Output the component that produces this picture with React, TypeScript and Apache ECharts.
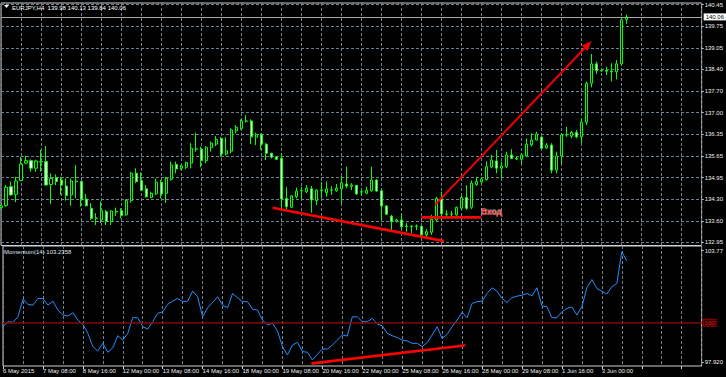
import React, { useEffect, useRef } from 'react';
import * as echarts from 'echarts';

// ---------- data ----------
const titleText = 'EURJPY,H4\u00a0 139.98 140.13 139.84 140.06';
const momentumTitle = 'Momentum(14) 103.2358';
const bidPrice = 140.06;
const levelValue = 100;

const xTickLabels = [
  '6 May 2015', '7 May 08:00', '8 May 16:00', '12 May 00:00', '13 May 08:00', '14 May 16:00',
  '18 May 00:00', '19 May 08:00', '20 May 16:00', '22 May 00:00', '25 May 08:00', '26 May 16:00',
  '28 May 00:00', '29 May 08:00', '1 Jun 16:00', '3 Jun 00:00',
];
const yTickLabels = [
  '132.95', '133.60', '134.30', '134.95', '135.65', '136.35',
  '137.00', '137.70', '138.40', '139.05', '139.75', '140.45',
];
const momTickValues = [97.92, 103.77];
const momTickLabels = ['97.920', '103.77'];

const opens = [
  134.05, 134.11, 134.71, 134.47, 134.90, 135.45, 135.53, 135.29, 135.50, 135.50,
  134.78, 134.99, 134.92, 134.73, 134.45, 134.86, 134.87, 134.32, 134.03, 133.71,
  133.66, 133.92, 133.61, 133.93, 133.95, 133.82, 134.27, 135.13, 134.90, 134.64,
  134.37, 134.48, 134.85, 134.50, 134.94, 135.41, 135.29, 135.32, 135.45, 135.90,
  135.89, 135.53, 135.94, 136.05, 136.23, 135.74, 135.83, 136.47, 136.55, 136.77,
  136.78, 136.27, 136.34, 136.05, 135.76, 135.65, 135.60, 134.34, 134.06, 134.39,
  134.59, 134.55, 134.64, 134.27, 134.58, 134.52, 134.60, 134.58, 134.64, 134.79,
  134.72, 134.75, 134.54, 134.50, 134.58, 134.92, 134.58, 134.10, 133.78, 133.62,
  133.66, 133.45, 133.47, 133.46, 133.46, 133.19, 133.27, 133.66, 134.34, 133.85,
  133.84, 133.82, 134.03, 134.37, 134.06, 134.78, 134.86, 134.93, 135.33, 135.52,
  135.29, 135.34, 135.71, 135.60, 135.57, 135.68, 136.03, 136.18, 136.27, 135.93,
  136.02, 135.23, 135.68, 136.34, 136.30, 136.42, 136.28, 136.74, 137.97, 138.58,
  138.36, 138.37, 138.35, 138.33, 138.58, 139.98,
];
const closes = [
  134.10, 134.69, 134.45, 134.89, 135.42, 135.53, 135.29, 135.52, 135.49, 134.76,
  134.97, 134.87, 134.76, 134.43, 134.89, 134.88, 134.31, 134.11, 133.71, 133.72,
  133.95, 133.61, 133.94, 133.91, 133.80, 134.27, 135.13, 134.87, 134.60, 134.39,
  134.50, 134.85, 134.48, 134.97, 135.39, 135.27, 135.36, 135.47, 135.92, 135.89,
  135.53, 135.95, 136.08, 136.20, 135.74, 135.84, 136.50, 136.58, 136.78, 136.78,
  136.28, 136.36, 136.05, 135.76, 135.64, 135.57, 134.32, 134.08, 134.42, 134.57,
  134.58, 134.66, 134.29, 134.60, 134.60, 134.64, 134.61, 134.66, 134.83, 134.73,
  134.76, 134.48, 134.55, 134.60, 134.92, 134.57, 134.10, 133.84, 133.61, 133.66,
  133.45, 133.47, 133.46, 133.47, 133.19, 133.29, 133.68, 134.34, 133.85, 133.84,
  133.85, 134.06, 134.37, 134.03, 134.82, 134.87, 134.95, 135.34, 135.55, 135.29,
  135.36, 135.71, 135.60, 135.58, 135.71, 136.05, 136.18, 136.37, 135.92, 136.02,
  135.23, 135.68, 136.34, 136.35, 136.42, 136.28, 136.74, 137.97, 138.58, 138.36,
  138.37, 138.35, 138.33, 138.58, 139.97, 140.06,
];
const lows = [
  134.02, 134.08, 134.43, 134.22, 134.89, 135.42, 135.18, 135.18, 135.18, 134.75,
  134.16, 134.76, 134.45, 134.27, 134.11, 134.34, 134.08, 134.08, 133.66, 133.50,
  133.56, 133.50, 133.50, 133.79, 133.71, 133.80, 134.20, 134.82, 134.58, 134.37,
  134.34, 134.45, 134.34, 134.20, 134.90, 135.13, 135.24, 135.26, 135.29, 135.81,
  135.32, 135.45, 135.81, 135.99, 135.65, 135.69, 135.76, 136.39, 136.50, 136.73,
  136.05, 136.02, 135.87, 135.55, 135.60, 135.55, 133.97, 133.97, 134.03, 134.34,
  134.31, 134.50, 133.89, 134.13, 134.35, 134.39, 134.45, 134.55, 134.20, 134.66,
  134.60, 134.45, 134.42, 134.48, 134.55, 134.55, 133.66, 133.82, 133.29, 133.58,
  133.34, 133.29, 133.24, 133.34, 133.15, 133.08, 133.19, 133.61, 133.66, 133.76,
  133.76, 133.79, 134.00, 133.97, 134.00, 134.73, 134.79, 134.90, 135.29, 135.13,
  134.97, 135.29, 135.58, 135.55, 135.45, 135.64, 135.97, 136.16, 135.90, 135.90,
  135.13, 135.13, 135.45, 136.28, 136.23, 136.23, 136.08, 136.65, 137.84, 138.26,
  138.33, 138.23, 138.02, 138.09, 138.54, 139.84,
];
const highs = [
  134.13, 134.76, 134.87, 135.02, 135.65, 135.68, 135.57, 135.56, 135.87, 135.99,
  135.13, 135.10, 135.02, 134.97, 134.97, 135.39, 134.89, 134.48, 134.19, 133.87,
  134.24, 133.97, 133.97, 134.05, 134.03, 134.31, 135.18, 135.29, 135.16, 134.76,
  134.55, 134.97, 134.92, 135.02, 135.50, 135.50, 135.39, 135.50, 136.08, 136.41,
  135.97, 135.99, 136.13, 136.31, 136.28, 136.27, 136.55, 136.65, 136.83, 136.97,
  136.83, 136.41, 136.39, 136.08, 135.78, 135.66, 135.76, 134.69, 134.45, 134.68,
  134.71, 134.76, 134.73, 134.63, 134.86, 134.87, 134.73, 134.79, 135.05, 135.34,
  134.82, 134.76, 134.60, 134.71, 135.34, 134.94, 134.60, 134.13, 133.82, 133.70,
  133.85, 133.57, 133.49, 133.52, 133.47, 133.37, 133.82, 134.39, 134.55, 133.97,
  133.95, 134.08, 134.42, 134.76, 134.90, 135.02, 135.00, 135.50, 135.71, 135.87,
  135.50, 135.81, 135.89, 135.66, 135.76, 136.23, 136.39, 136.44, 136.30, 136.08,
  136.08, 135.81, 136.39, 136.60, 136.47, 136.50, 136.86, 138.02, 138.89, 138.65,
  138.41, 138.49, 138.60, 138.70, 140.02, 140.13,
];
const momentum = [
  99.79, 100.05, 100.02, 100.31, 101.24, 100.96, 100.92, 101.27, 101.27, 100.92,
  101.13, 100.66, 100.40, 100.35, 100.52, 100.14, 99.91, 99.44, 98.75, 98.52,
  98.92, 98.45, 98.69, 99.32, 99.09, 99.44, 100.26, 100.26, 99.79, 99.67,
  100.05, 100.49, 100.57, 100.96, 101.13, 101.27, 101.10, 101.13, 101.65, 101.36,
  100.31, 100.78, 101.06, 101.36, 100.92, 100.78, 101.53, 101.31, 101.10, 101.10,
  100.71, 100.66, 100.14, 99.88, 99.97, 99.56, 98.75, 98.31, 98.83, 98.97,
  98.49, 98.45, 98.05, 98.35, 98.62, 98.62, 98.83, 99.09, 99.36, 99.30,
  100.31, 100.31, 100.05, 100.05, 100.23, 99.93, 99.84, 99.44, 99.32, 99.22,
  99.09, 99.04, 98.92, 98.92, 98.75, 98.96, 99.36, 99.79, 99.18, 99.39,
  99.79, 100.14, 100.54, 100.26, 101.01, 101.10, 101.13, 101.53, 101.83, 101.65,
  101.27, 101.06, 101.31, 101.39, 101.44, 101.53, 101.41, 101.83, 100.87, 100.84,
  100.26, 100.26, 100.57, 100.75, 100.82, 100.40, 100.84, 101.83, 102.26, 101.79,
  101.65, 101.50, 101.88, 102.05, 103.71, 103.24,
];

// hand-drawn annotations, in [bar index, value] data units
const downTrendLine = [[54.5, 134.04], [88.3, 133.0]];
const entryLine = [[84.2, 133.74], [95.7, 133.74]];
const targetArrow = [[86.7, 134.13], [118.0, 139.3]];
const momentumTrendLine = [[62.0, 97.87], [92.4, 98.81]];
const entryLabel = { text: 'Вход', at: [96.0, 133.9] };

// ---------- layout ----------
const SLOTS = 141; // bar slots incl. the chart-shift space on the right
const PRICE_MIN = 132.855;
const PRICE_MAX = 140.498;
const MOM_MIN = 97.733;
const MOM_MAX = 104.016;
const FONT = "'Liberation Sans', Arial, sans-serif";
const GRID_COLOR = '#718293';
const TEXT_COLOR = '#eeeeee';

const pad = (n: number) => (n < 10 ? '0' + n : '' + n);
function buildCategories(n: number): string[] {
  const out: string[] = [];
  let t = Date.UTC(2015, 4, 6, 0, 0);
  while (out.length < n) {
    const d = new Date(t);
    const wd = d.getUTCDay();
    if (wd !== 0 && wd !== 6) {
      out.push(`${d.getUTCFullYear()}.${pad(d.getUTCMonth() + 1)}.${pad(d.getUTCDate())} ${pad(d.getUTCHours())}:00`);
    }
    t += 4 * 3600 * 1000;
  }
  return out;
}

const yLo = parseFloat(yTickLabels[0]);
const yHi = parseFloat(yTickLabels[yTickLabels.length - 1]);
const yStep = (yHi - yLo) / (yTickLabels.length - 1);
const yTickValues = yTickLabels.map((_, i) => yLo + i * yStep);

export default function App() {
  const ref = useRef<HTMLDivElement>(null);

  useEffect(() => {
    document.body.style.margin = '0';
    const chart = echarts.init(ref.current!, null, { renderer: 'svg' });
    const categories = buildCategories(SLOTS);
    const candles = opens.map((o, i) => [o, closes[i], lows[i], highs[i]]);

    const splitLine = { show: true, interval: 3, lineStyle: { color: GRID_COLOR, type: [3, 2] as any, width: 1 } };

    const option: any = {
      animation: false,
      backgroundColor: '#000000',
      textStyle: { fontFamily: FONT, fontSize: 6, color: TEXT_COLOR },
      grid: [
        { left: 1, right: 20, top: 3, height: 242.5, show: true, borderColor: '#cfcfcf', borderWidth: 1, backgroundColor: 'transparent' },
        { left: 1, right: 20, top: 246, height: 120, show: true, borderColor: '#cfcfcf', borderWidth: 1, backgroundColor: 'transparent' },
      ],
      xAxis: [
        {
          type: 'category', gridIndex: 0, data: categories, boundaryGap: false,
          axisLine: { show: false }, axisTick: { show: false }, axisLabel: { show: false },
          splitLine,
        },
        {
          type: 'category', gridIndex: 1, data: categories, boundaryGap: false, position: 'bottom',
          axisLine: { show: false },
          axisTick: { show: true, interval: 7, length: 3, lineStyle: { color: '#cfcfcf' } },
          axisLabel: {
            show: true, interval: 7, align: 'left', margin: 2, color: TEXT_COLOR, fontSize: 6, fontFamily: FONT,
            formatter: (_v: string, idx: number) => (idx % 8 === 0 && xTickLabels[idx / 8] ? xTickLabels[idx / 8] : ''),
          },
          splitLine,
        },
      ],
      yAxis: [
        {
          type: 'value', gridIndex: 0, position: 'right', min: PRICE_MIN, max: PRICE_MAX,
          axisLine: { show: false },
          axisTick: { show: true, customValues: yTickValues, length: 2, lineStyle: { color: '#cfcfcf' } },
          axisLabel: {
            customValues: yTickValues, margin: 3, color: TEXT_COLOR, fontSize: 6, fontFamily: FONT,
            formatter: (v: number) => yTickLabels[Math.round((v - yLo) / yStep)] ?? '',
          },
          splitLine: { show: true, lineStyle: { color: GRID_COLOR, type: [3, 2], width: 1 } },
        },
        {
          type: 'value', gridIndex: 1, position: 'right', min: MOM_MIN, max: MOM_MAX,
          axisLine: { show: false },
          axisTick: { show: true, customValues: momTickValues, length: 2, lineStyle: { color: '#cfcfcf' } },
          axisLabel: {
            customValues: momTickValues, margin: 3, color: TEXT_COLOR, fontSize: 6, fontFamily: FONT,
            formatter: (v: number) => {
              const i = momTickValues.findIndex((t) => Math.abs(t - v) < 1e-6);
              return i >= 0 ? momTickLabels[i] : '';
            },
          },
          splitLine: { show: false },
        },
      ],
      series: [
        {
          type: 'candlestick', xAxisIndex: 0, yAxisIndex: 0, data: candles,
          barWidth: 2.6,
          itemStyle: { color: '#000000', color0: '#ffffff', borderColor: '#00ff00', borderColor0: '#00ff00', borderWidth: 1 },
          markLine: {
            silent: true, symbol: 'none', animation: false,
            lineStyle: { color: '#a8a8a8', width: 1, type: 'solid' },
            label: {
              show: true, position: 'end', distance: 2, formatter: bidPrice.toFixed(2),
              color: '#000000', backgroundColor: '#ffffff', padding: [1, 2, 0, 2], fontSize: 6, fontFamily: FONT,
            },
            data: [{ yAxis: bidPrice }],
          },
          z: 3,
        },
        {
          type: 'line', xAxisIndex: 1, yAxisIndex: 1, data: momentum,
          symbol: 'none', lineStyle: { color: '#1e90ff', width: 1 }, itemStyle: { color: '#1e90ff' },
          markLine: {
            silent: true, symbol: 'none', animation: false,
            lineStyle: { color: '#840808', width: 1.6, type: 'solid' },
            label: {
              show: true, position: 'end', distance: 2, formatter: String(levelValue),
              color: '#d02020', backgroundColor: '#3a0000', borderColor: '#a00000', borderWidth: 1,
              padding: [0, 1], fontSize: 6, fontFamily: FONT,
            },
            data: [{ yAxis: levelValue }],
          },
          z: 4,
        },
      ],
    };
    chart.setOption(option);

    const toPx = (grid: number, bar: number, val: number) => {
      const a = chart.convertToPixel({ gridIndex: grid } as any, [0, val]) as number[];
      const b = chart.convertToPixel({ gridIndex: grid } as any, [SLOTS - 1, val]) as number[];
      return [a[0] + ((b[0] - a[0]) * bar) / (SLOTS - 1), a[1]];
    };
    const lineEl = (grid: number, pts: number[][], width: number) => {
      const [x1, y1] = toPx(grid, pts[0][0], pts[0][1]);
      const [x2, y2] = toPx(grid, pts[1][0], pts[1][1]);
      return { type: 'line', shape: { x1, y1, x2, y2 }, style: { stroke: '#ff0000', lineWidth: width, lineCap: 'round' }, z: 50 };
    };

    const [ax1, ay1] = toPx(0, targetArrow[0][0], targetArrow[0][1]);
    const [ax2, ay2] = toPx(0, targetArrow[1][0], targetArrow[1][1]);
    const dx = ax2 - ax1;
    const dy = ay2 - ay1;
    const len = Math.hypot(dx, dy);
    const ux = dx / len;
    const uy = dy / len;
    const hl = 10;
    const hw = 4;
    const bx = ax2 - ux * hl;
    const by = ay2 - uy * hl;
    const [lx, ly] = toPx(0, entryLabel.at[0], entryLabel.at[1]);
    const labelFont = `bold 8.5px ${FONT}`;

    chart.setOption({
      graphic: [
        { type: 'polygon', shape: { points: [[4, 5], [9, 5], [6.5, 8]] }, style: { fill: '#ffffff' }, z: 60 },
        {
          type: 'text', x: 12, y: 7.5, z: 60,
          style: { text: titleText, fill: '#ffffff', font: `6px ${FONT}`, align: 'left', verticalAlign: 'middle' },
        },
        {
          type: 'text', x: 4, y: 252, z: 60,
          style: { text: momentumTitle, fill: '#dde6f0', font: `6px ${FONT}`, align: 'left', verticalAlign: 'middle' },
        },
        lineEl(0, downTrendLine, 2.6),
        lineEl(0, entryLine, 2.6),
        lineEl(1, momentumTrendLine, 2.6),
        { type: 'line', shape: { x1: ax1, y1: ay1, x2: bx, y2: by }, style: { stroke: '#ee0000', lineWidth: 2 }, z: 50 },
        {
          type: 'polygon', z: 50,
          shape: { points: [[ax2, ay2], [bx - uy * hw, by + ux * hw], [bx + uy * hw, by - ux * hw]] },
          style: { fill: '#ee0000' },
        },
        {
          type: 'text', x: lx, y: ly, z: 61,
          style: {
            text: entryLabel.text, fill: '#ff1010', font: labelFont, align: 'left', verticalAlign: 'middle',
            textShadowColor: 'rgba(255,255,255,0.85)', textShadowBlur: 1.5, textShadowOffsetX: -0.5, textShadowOffsetY: -0.5,
          },
        },
      ],
    });

    return () => chart.dispose();
  }, []);

  return (
    <div
      ref={ref}
      style={{ position: 'absolute', left: 0, top: 0, width: 726, height: 377, background: '#000000' }}
    />
  );
}
